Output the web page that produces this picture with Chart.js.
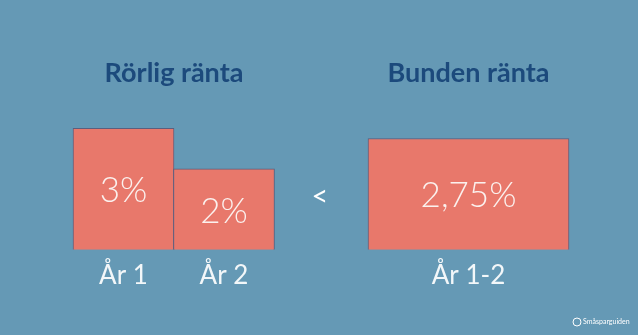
<!DOCTYPE html>
<html>
<head>
<meta charset="utf-8">
<script src="https://cdn.jsdelivr.net/npm/chart.js@4"></script>
<style>
    body { margin: 0; background: #6599b5; }
    canvas { display: block; }
</style>
</head>
<body>
<canvas id="rantaChart" width="638" height="335"></canvas>
<script>
// data
var categories = ['År 1', 'År 2', 'År 1-2'];
var rorligRanta = [3, 2];
var bundenRanta = [2.75];
var valueLabels = ['3%', '2%', '2,75%'];
var groupTitles = ['Rörlig ränta', 'Bunden ränta'];

// layout (x centres on a 0-638 scale)
var barCenters = [123.5, 224, 468.5];
var titleCenters = [174, 468.5];
var signCenter = 320;

var barFill = '#e8786b';
var barEdge = '#5b5f7e';

var textPlugin = {
    id: 'textPlugin',
    afterDatasetsDraw: function (chart) {
        var ctx = chart.ctx;
        var x = chart.scales.x;
        ctx.save();
        ctx.textAlign = 'center';
        ctx.textBaseline = 'middle';

        // values inside the bars
        ctx.fillStyle = '#fbf1ee';
        ctx.font = '300 35px Lato';
        var n = 0;
        chart.data.datasets.forEach(function (ds, i) {
            chart.getDatasetMeta(i).data.forEach(function (bar) {
                ctx.fillText(valueLabels[n], bar.x, (bar.y + bar.base) / 2 + 2);
                n++;
            });
        });

        // titles
        ctx.fillStyle = '#1c4a7c';
        ctx.font = 'bold 27px Lato';
        titleCenters.forEach(function (c, i) {
            ctx.fillText(groupTitles[i], x.getPixelForValue(c), 73);
        });

        // compare sign
        ctx.fillStyle = '#ffffff';
        ctx.font = '29px Lato';
        ctx.fillText('<', x.getPixelForValue(signCenter), 197);

        // logo
        ctx.font = '7px Lato';
        ctx.textAlign = 'left';
        ctx.fillText('Småsparguiden', 583, 322);
        ctx.strokeStyle = '#ffffff';
        ctx.lineWidth = 1;
        ctx.beginPath();
        ctx.arc(577, 322, 4, 0, Math.PI * 2);
        ctx.stroke();
        ctx.restore();
    }
};

var ctx = document.getElementById('rantaChart');
var myChart = new Chart(ctx, {
    type: 'bar',
    data: {
        datasets: [{
            label: groupTitles[0],
            data: rorligRanta.map(function (v, i) { return { x: barCenters[i], y: v }; }),
            barThickness: 101,
            backgroundColor: barFill,
            borderColor: barEdge,
            borderWidth: 1
        }, {
            label: groupTitles[1],
            data: bundenRanta.map(function (v, i) { return { x: barCenters[2 + i], y: v }; }),
            barThickness: 201,
            backgroundColor: barFill,
            borderColor: barEdge,
            borderWidth: 1
        }]
    },
    options: {
        responsive: false,
        animation: false,
        layout: { padding: { top: 7, left: 0, right: 0, bottom: 34 } },
        datasets: {
            bar: { grouped: false }
        },
        scales: {
            x: {
                type: 'linear',
                min: 0,
                max: 638,
                offset: false,
                grid: { display: false, drawTicks: false },
                border: { display: false },
                afterBuildTicks: function (scale) {
                    scale.ticks = barCenters.map(function (v) { return { value: v }; });
                },
                ticks: {
                    autoSkip: false,
                    maxRotation: 0,
                    padding: 10,
                    color: '#f3f7f9',
                    font: { family: 'Lato', size: 26 },
                    callback: function (v) { return categories[barCenters.indexOf(v)]; }
                }
            },
            y: {
                display: false,
                min: 0,
                max: 6
            }
        },
        plugins: {
            legend: { display: false },
            tooltip: { enabled: false }
        }
    },
    plugins: [textPlugin]
});
</script>
</body>
</html>
